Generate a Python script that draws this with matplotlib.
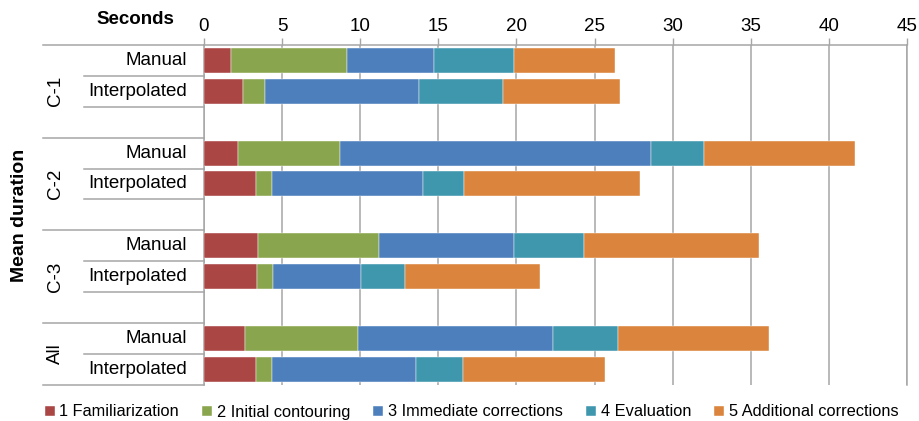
import numpy as np
import matplotlib.pyplot as plt
from matplotlib.transforms import blended_transform_factory

plt.rcParams['font.family'] = ['Liberation Sans', 'DejaVu Sans']

groups = ["C-1", "C-2", "C-3", "All"]
methods = ["Manual", "Interpolated"]
phases = ["1 Familiarization", "2 Initial contouring", "3 Immediate corrections",
          "4 Evaluation", "5 Additional corrections"]

# seconds per phase, order: C-1 M, C-1 I, C-2 M, C-2 I, C-3 M, C-3 I, All M, All I
familiarization = [1.71, 2.50, 2.18, 3.35, 3.47, 3.40, 2.64, 3.30]
initial_contouring = [7.42, 1.43, 6.53, 1.03, 7.71, 1.00, 7.20, 1.03]
immediate_corr = [5.59, 9.83, 19.88, 9.65, 8.64, 5.68, 12.50, 9.23]
evaluation = [5.13, 5.36, 3.44, 2.62, 4.48, 2.81, 4.18, 3.05]
additional_corr = [6.48, 7.53, 9.62, 11.26, 11.20, 8.62, 9.64, 9.08]

series = [familiarization, initial_contouring, immediate_corr, evaluation, additional_corr]
colors = ["#AA4643", "#89A54E", "#4D7FBC", "#3F97AD", "#DB843D"]
gray = "#A6A6A6"

fig = plt.figure(figsize=(9.2, 4.21), dpi=100)
ax = fig.add_axes([204 / 920, 1 - 384.7 / 421, 703 / 920, (384.7 - 45) / 421])

# each group takes 3 slots (last one only 2)
ypos = [gi * 3 + mi for gi in range(len(groups)) for mi in range(len(methods))]

left = np.zeros(len(ypos))
for name, vals, col in zip(phases, series, colors):
    vals = np.array(vals)
    ax.barh(ypos, vals, left=left, height=0.81, color=col, label=name,
            edgecolor="white", linewidth=0.3, zorder=3)
    left += vals

ax.set_xlim(0, 45)
ax.set_ylim(10.5, -0.5)
ax.xaxis.tick_top()
ax.set_xticks(range(0, 46, 5))
ax.tick_params(axis="x", length=5, width=1, color=gray, labelsize=13.5, pad=2)
ax.set_yticks([])
ax.grid(axis="x", color=gray, lw=1.1, zorder=0)
for s in ["top", "left", "right"]:
    ax.spines[s].set_color(gray)
    ax.spines[s].set_linewidth(1.1)
ax.spines["bottom"].set_visible(False)

# hierarchical category axis on the left
trans = blended_transform_factory(ax.transAxes, ax.transData)
outer_x = (43 - 204) / 703
inner_x = (84 - 204) / 703
lab_x = (187 - 204) / 703
grp_x = (55 - 204) / 703
for gi, g in enumerate(groups):
    base = gi * 3
    ax.plot([outer_x, 0], [base - 0.5, base - 0.5], transform=trans, color=gray,
            lw=1.1, clip_on=False)
    nslots = 3 if gi < len(groups) - 1 else 2
    for mi, m in enumerate(methods):
        ax.text(lab_x, base + mi, m, transform=trans, ha="right", va="center",
                fontsize=13.5)
        start = outer_x if (gi == len(groups) - 1 and mi == len(methods) - 1) else inner_x
        ax.plot([start, 0], [base + mi + 0.5] * 2, transform=trans, color=gray,
                lw=1.1, clip_on=False)
    ax.text(grp_x, base + (nslots - 1) / 2, g, transform=trans, rotation=90,
            ha="center", va="center", fontsize=13.5)

fig.text(20 / 920, 1 - 215 / 421, "Mean duration", rotation=90, ha="center",
         va="center", fontsize=14, fontweight="bold")
fig.text(174 / 920, 1 - 20 / 421, "Seconds", ha="right", va="center",
         fontsize=13.5, fontweight="bold")

fig.legend(loc="center", bbox_to_anchor=(0.5125, 1 - 412 / 421), ncol=5,
           frameon=False, handlelength=0.6, handleheight=0.6, handletextpad=0.3,
           columnspacing=1.4, fontsize=11.8, borderaxespad=0)

fig.savefig("out.png", dpi=100)
